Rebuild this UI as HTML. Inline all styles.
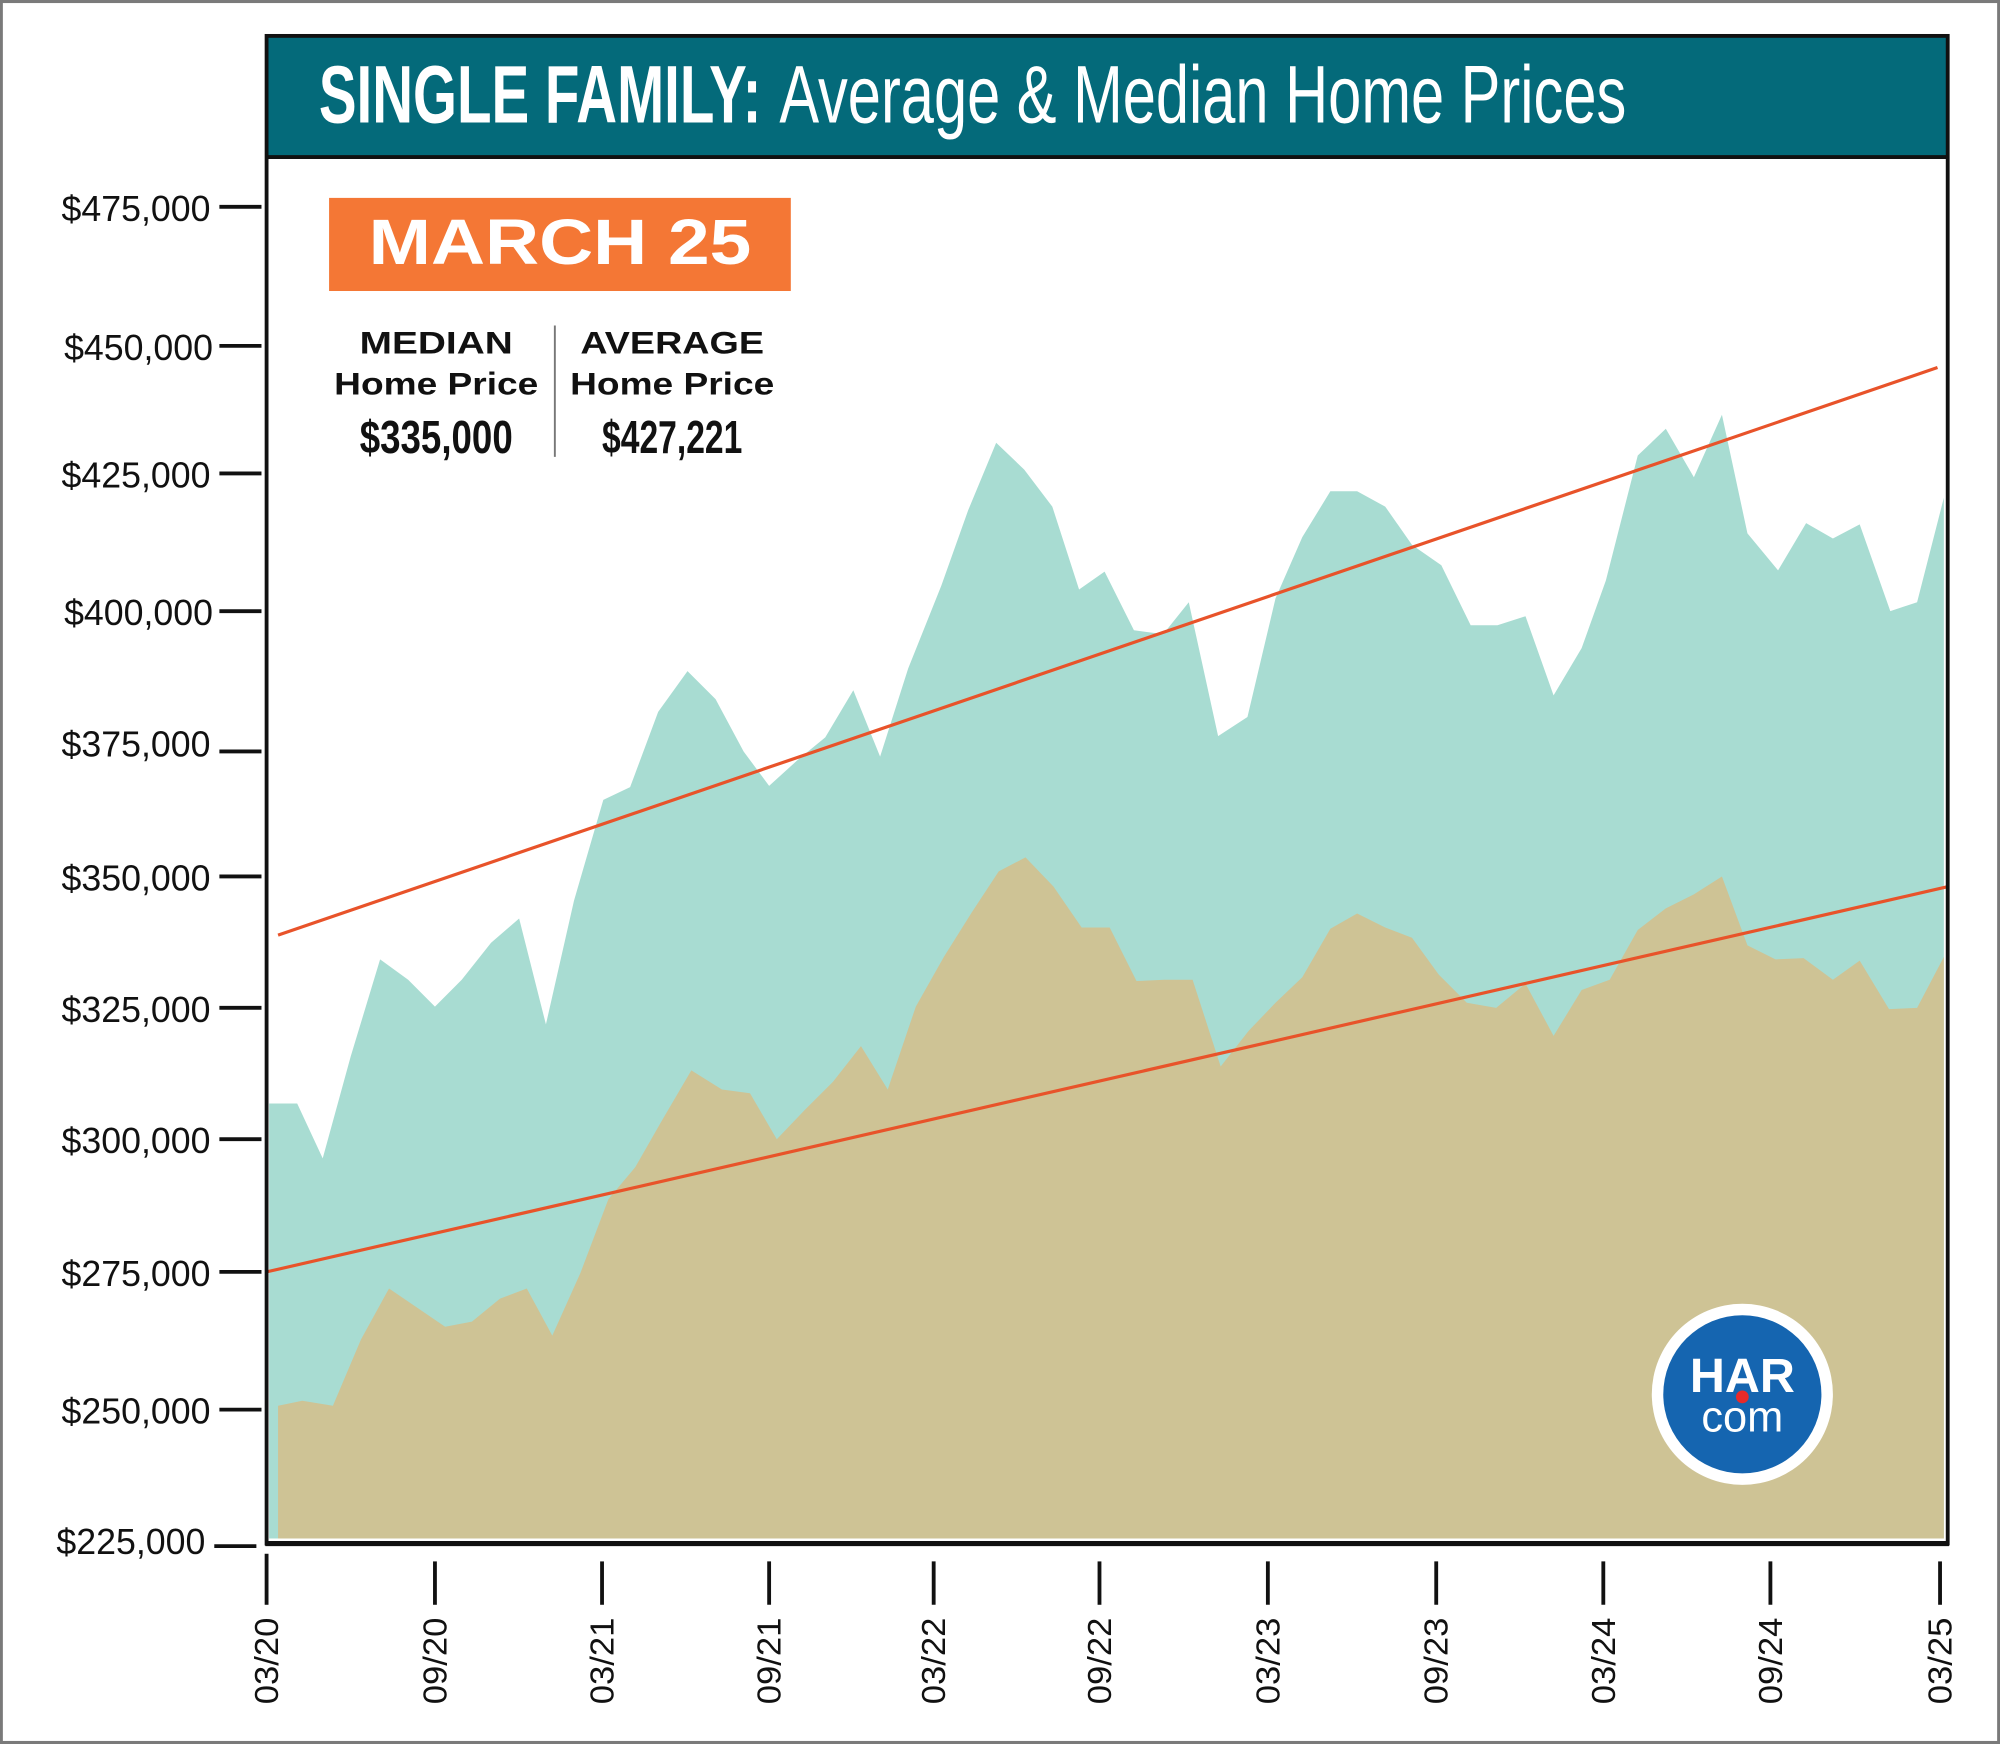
<!DOCTYPE html>
<html><head><meta charset="utf-8"><style>
html,body{margin:0;padding:0;background:#fff}
svg{display:block}
text{font-family:"Liberation Sans",sans-serif}
.n{font-family:"Liberation Sans Narrow","Liberation Sans",sans-serif}
</style></head><body>
<svg width="2000" height="1744" viewBox="0 0 1568 1367" xmlns="http://www.w3.org/2000/svg">
<rect x="1" y="1" width="1566" height="1365" fill="#fff" stroke="#7a7a7a" stroke-width="2.5"/>
<polygon fill="#a8dcd2" points="211,1206 211,865 233,865 253,908 275,828 298,752 320,768 341,789 362,768 385,739 407,720 428,803 450,706 473,627 494,617 516,558 539,526 561,548 583,589 603,616 625,596 647,578 669,541 690,593 712,524 738,459 759,400 781,347 803,368 825,397 846,462 866,448 889,494 912,497 932,472 955,577 978,562 1000,469 1021,421 1043,385 1064,385 1086,397 1107,427 1130,443 1153,490 1174,490 1196,483 1218,545 1240,508 1259,455 1284,357 1306,336 1328,374 1350,325 1370,418 1394,447 1416,410 1437,422 1458,411 1482,479 1503,472 1524,390 1524,1206"/>
<polygon fill="#cec395" points="218,1206 218,1102 237,1098 261,1102 283,1050 305,1010 327,1025 349,1040 370,1036 392,1018 413,1010 433,1047 455,998 477,940 498,915 518,880 542,839 566,854 588,857 609,893 631,870 653,848 675,820 696,854 718,789 740,750 762,715 783,683 804,672 826,695 848,727 870,727 891,769 913,768 935,768 957,836 979,808 1000,786 1021,766 1043,728 1064,716 1086,727 1107,735 1128,764 1150,786 1173,790 1196,771 1218,812 1240,776 1262,768 1284,729 1306,712 1328,701 1350,687 1370,741 1392,752 1414,751 1437,768 1458,753 1481,791 1503,790 1524,750 1524,1206"/>
<line x1="218" y1="733" x2="1519" y2="288" stroke="#e8532a" stroke-width="2.5"/>
<line x1="209" y1="997" x2="1527" y2="695" stroke="#e8532a" stroke-width="2.5"/>
<rect x="209" y="28" width="1318" height="95" fill="#046a7a"/>
<line x1="209" y1="123" x2="1527" y2="123" stroke="#111" stroke-width="3"/>
<rect x="209" y="28" width="1318" height="1182" fill="none" stroke="#111" stroke-width="3"/>
<line x1="208" y1="1210" x2="1528" y2="1210" stroke="#111" stroke-width="4"/>
<text class="n" x="250" y="96" font-size="64" font-weight="bold" fill="#fff" textLength="347" lengthAdjust="spacingAndGlyphs">SINGLE FAMILY:</text>
<text class="n" x="611" y="96" font-size="64" fill="#fff" textLength="664" lengthAdjust="spacingAndGlyphs">Average &amp; Median Home Prices</text>
<rect x="258" y="155" width="362" height="73" fill="#f47735"/>
<text x="439" y="207" font-size="50" font-weight="bold" fill="#fff" text-anchor="middle" textLength="300" lengthAdjust="spacingAndGlyphs">MARCH 25</text>
<line x1="435" y1="255" x2="435" y2="358" stroke="#777" stroke-width="1.5"/>
<g text-anchor="middle" fill="#111">
<text x="342" y="277" font-size="25" font-weight="bold" textLength="120" lengthAdjust="spacingAndGlyphs">MEDIAN</text>
<text x="342" y="309" font-size="25" font-weight="bold" textLength="160" lengthAdjust="spacingAndGlyphs">Home Price</text>
<text class="n" x="342" y="355" font-size="36" font-weight="bold" textLength="120" lengthAdjust="spacingAndGlyphs">$335,000</text>
<text x="527" y="277" font-size="25" font-weight="bold" textLength="144" lengthAdjust="spacingAndGlyphs">AVERAGE</text>
<text x="527" y="309" font-size="25" font-weight="bold" textLength="160" lengthAdjust="spacingAndGlyphs">Home Price</text>
<text class="n" x="527" y="355" font-size="36" font-weight="bold" textLength="110" lengthAdjust="spacingAndGlyphs">$427,221</text>
</g>
<g stroke="#111" stroke-width="3">
<line x1="172" y1="162" x2="205" y2="162"/><line x1="172" y1="271" x2="205" y2="271"/>
<line x1="172" y1="371" x2="205" y2="371"/><line x1="172" y1="479" x2="205" y2="479"/>
<line x1="172" y1="589" x2="205" y2="589"/><line x1="172" y1="687" x2="205" y2="687"/>
<line x1="172" y1="790" x2="205" y2="790"/><line x1="172" y1="893" x2="205" y2="893"/>
<line x1="172" y1="997" x2="205" y2="997"/><line x1="172" y1="1105" x2="205" y2="1105"/>
<line x1="168" y1="1212" x2="201" y2="1212"/>
</g>
<g class="n" font-size="28" text-anchor="end" fill="#111">
<text x="165" y="173">$475,000</text><text x="167" y="282">$450,000</text>
<text x="165" y="382">$425,000</text><text x="167" y="490">$400,000</text>
<text x="165" y="593">$375,000</text><text x="165" y="698">$350,000</text>
<text x="165" y="801">$325,000</text><text x="165" y="904">$300,000</text>
<text x="165" y="1008">$275,000</text><text x="165" y="1116">$250,000</text>
<text x="161" y="1218">$225,000</text>
</g>
<g stroke="#111" stroke-width="3">
<line x1="209" y1="1218" x2="209" y2="1258"/><line x1="341" y1="1224" x2="341" y2="1258"/>
<line x1="472" y1="1224" x2="472" y2="1258"/><line x1="603" y1="1224" x2="603" y2="1258"/>
<line x1="732" y1="1224" x2="732" y2="1258"/><line x1="862" y1="1224" x2="862" y2="1258"/>
<line x1="994" y1="1224" x2="994" y2="1258"/><line x1="1126" y1="1224" x2="1126" y2="1258"/>
<line x1="1257" y1="1224" x2="1257" y2="1258"/><line x1="1388" y1="1224" x2="1388" y2="1258"/>
<line x1="1521" y1="1224" x2="1521" y2="1258"/>
</g>
<g font-size="26" fill="#111">
<text transform="translate(218,1336) rotate(-90)" textLength="68" lengthAdjust="spacingAndGlyphs">03/20</text>
<text transform="translate(350,1336) rotate(-90)" textLength="68" lengthAdjust="spacingAndGlyphs">09/20</text>
<text transform="translate(481,1336) rotate(-90)" textLength="68" lengthAdjust="spacingAndGlyphs">03/21</text>
<text transform="translate(612,1336) rotate(-90)" textLength="68" lengthAdjust="spacingAndGlyphs">09/21</text>
<text transform="translate(741,1336) rotate(-90)" textLength="68" lengthAdjust="spacingAndGlyphs">03/22</text>
<text transform="translate(871,1336) rotate(-90)" textLength="68" lengthAdjust="spacingAndGlyphs">09/22</text>
<text transform="translate(1003,1336) rotate(-90)" textLength="68" lengthAdjust="spacingAndGlyphs">03/23</text>
<text transform="translate(1135,1336) rotate(-90)" textLength="68" lengthAdjust="spacingAndGlyphs">09/23</text>
<text transform="translate(1266,1336) rotate(-90)" textLength="68" lengthAdjust="spacingAndGlyphs">03/24</text>
<text transform="translate(1397,1336) rotate(-90)" textLength="68" lengthAdjust="spacingAndGlyphs">09/24</text>
<text transform="translate(1530,1336) rotate(-90)" textLength="68" lengthAdjust="spacingAndGlyphs">03/25</text>
</g>
<circle cx="1366" cy="1093" r="71" fill="#fff"/>
<circle cx="1366" cy="1093" r="62" fill="#1565b0"/>
<text x="1366" y="1091" font-size="38" font-weight="bold" fill="#fff" text-anchor="middle">HAR</text>
<circle cx="1366" cy="1095" r="5" fill="#e82a2a"/>
<text x="1366" y="1122" font-size="34" fill="#fff" text-anchor="middle">com</text>
</svg>
</body></html>
